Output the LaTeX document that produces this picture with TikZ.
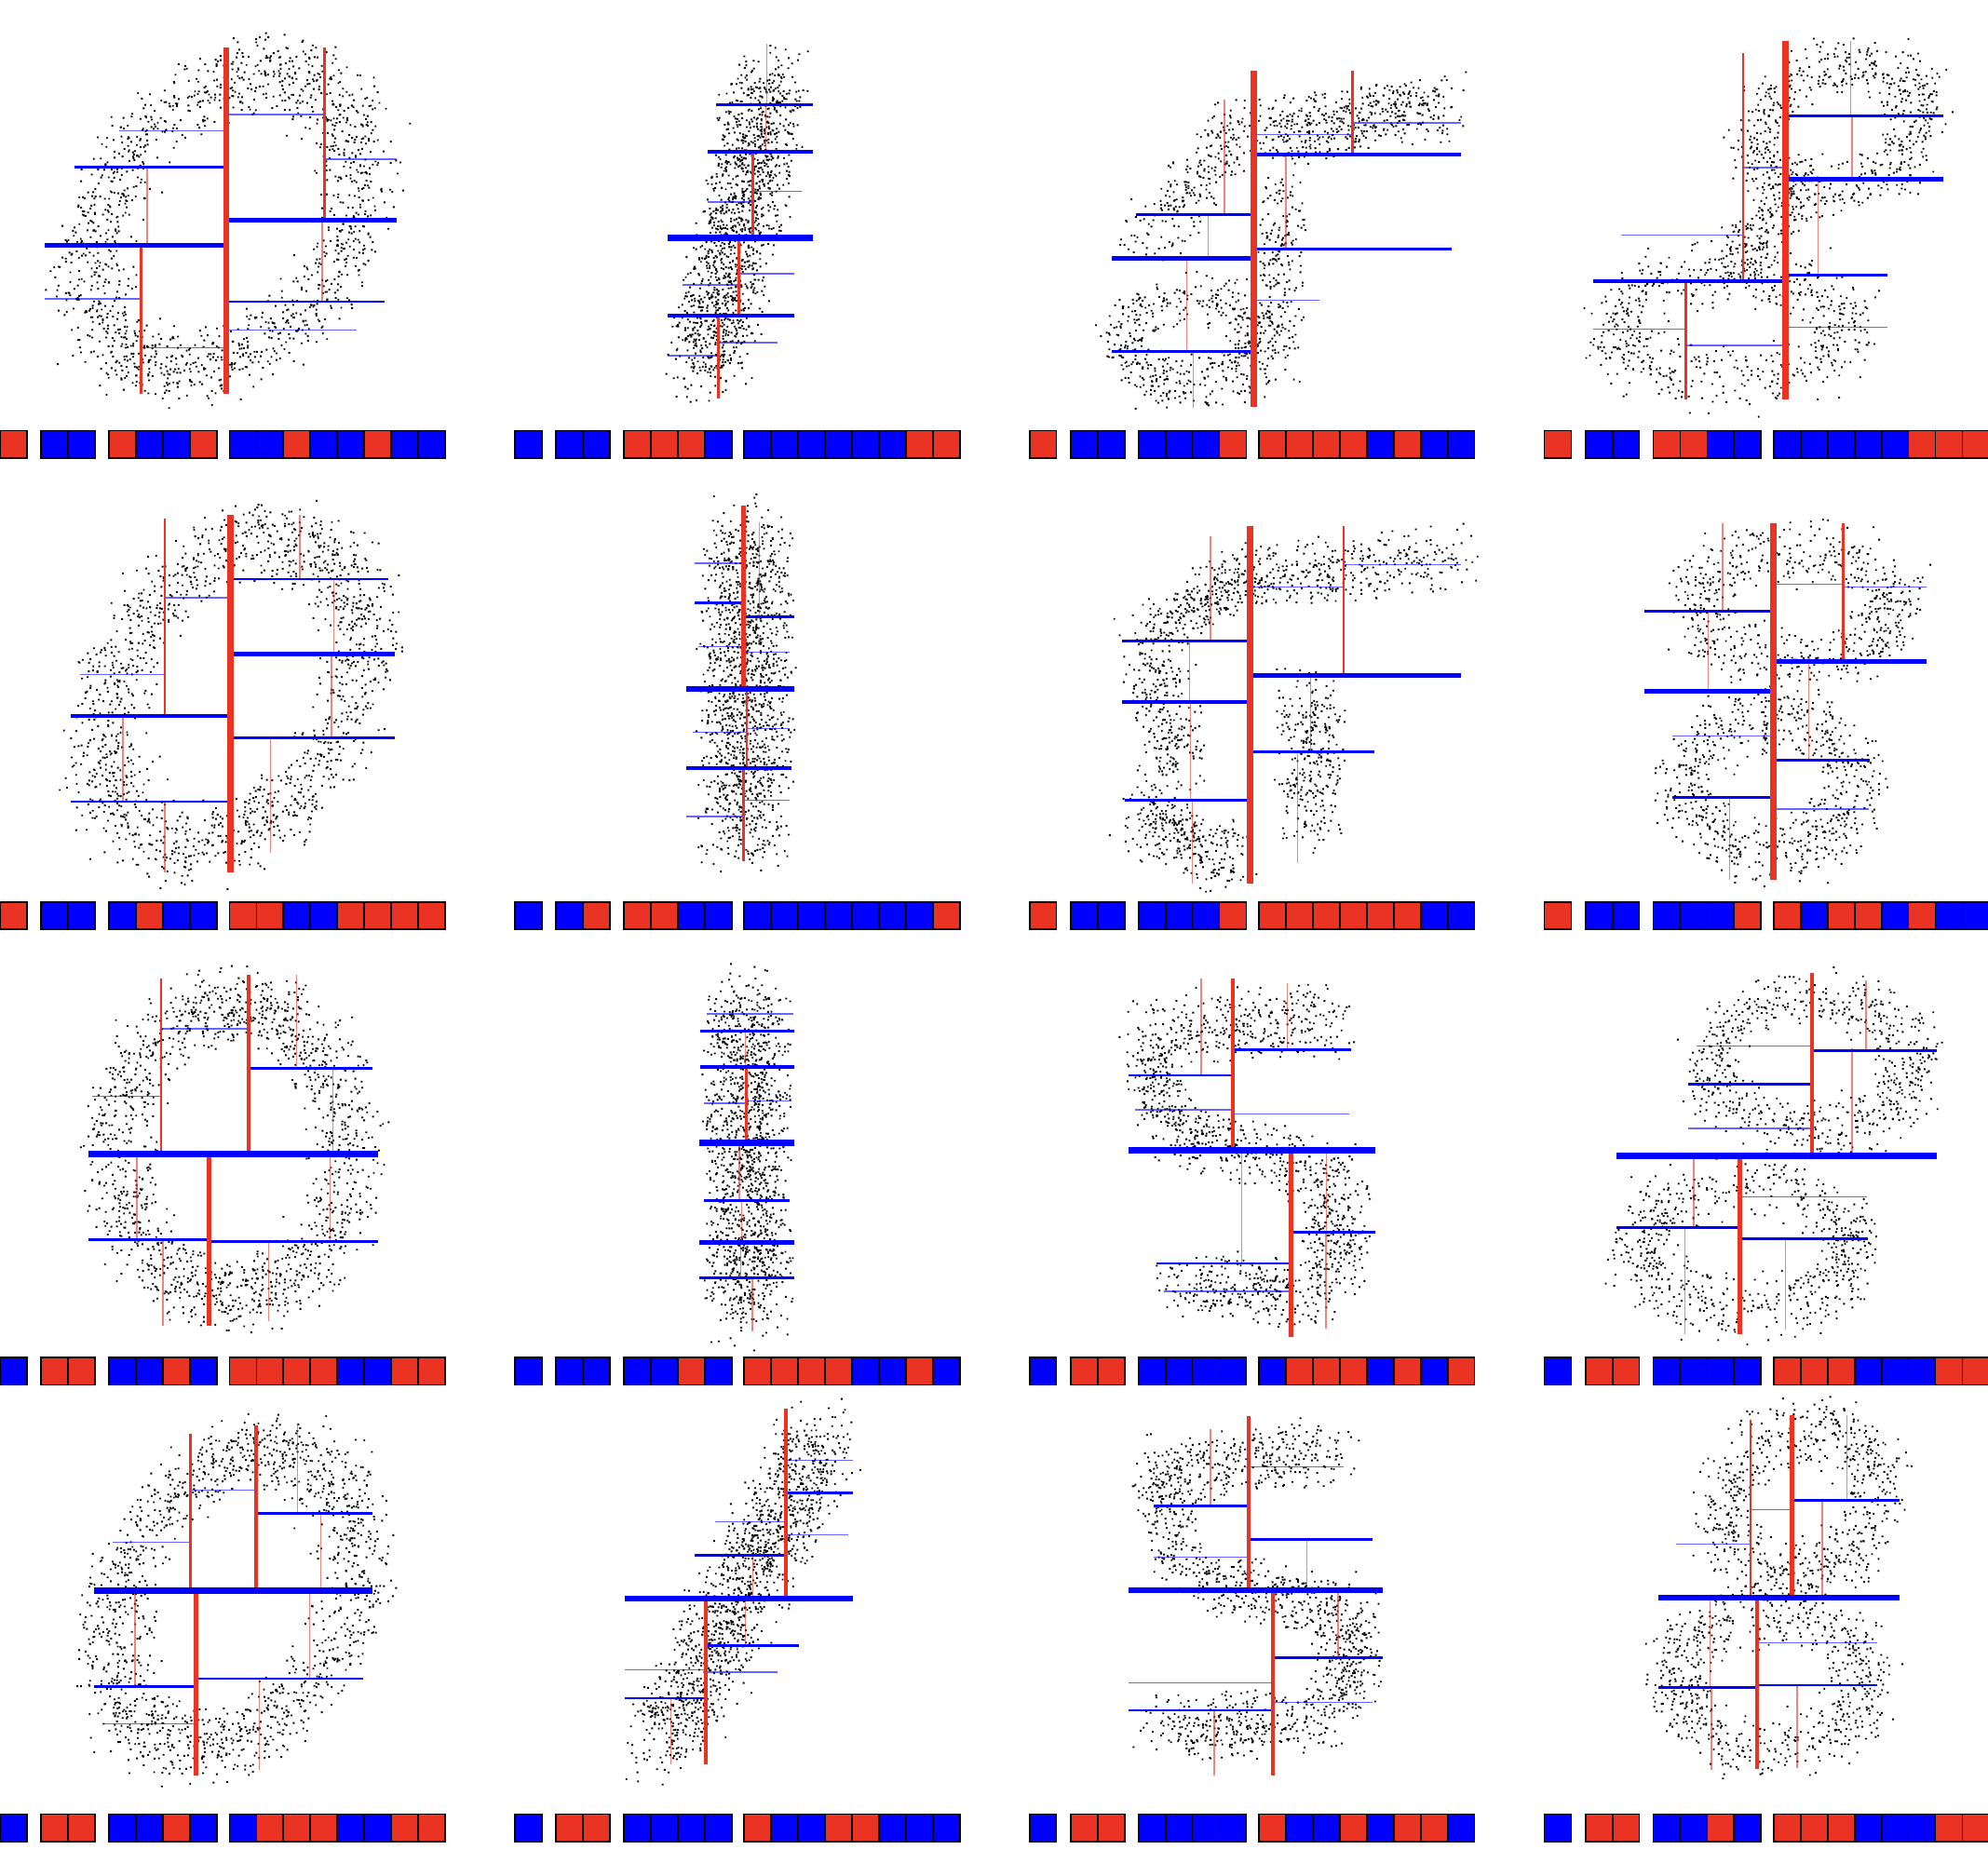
\documentclass[tikz,border=0pt]{standalone}
\usepackage{tikz}
\definecolor{kred}{RGB}{234,51,35}
\definecolor{kblue}{RGB}{0,0,255}
\definecolor{sqR}{RGB}{234,51,35}
\definecolor{sqB}{RGB}{0,0,255}
\tikzset{
  lwa/.style={line width=5pt},
  lwb/.style={line width=3.2pt},
  lwc/.style={line width=2pt},
  lwd/.style={line width=1pt, opacity=0.6},
}
\newcommand\redv[4]{\draw[#1, kred] (#2,#3) -- (#2,#4);}
\newcommand\blueh[4]{\draw[#1, kblue] (#3,#2) -- (#4,#2);}
\newcount\dotcnt
\newcount\dotsub
\newcommand\dotflush{\advance\dotsub by 1 \ifnum\dotsub>149 \pgfusepath{fill}\dotsub=0 \fi}
% N, x0, y0, x1, y1, w
\newcommand\dseg[6]{%
  \dotcnt=0 \dotsub=0
  \loop
    \pgfmathsetmacro\dott{rnd}%
    \pgfmathsetmacro\dotx{#2+(#4-#2)*\dott+#6*(rand+0.6*rand)/1.6}%
    \pgfmathsetmacro\doty{#3+(#5-#3)*\dott+#6*(rand+0.6*rand)/1.6}%
    \pgfpathrectangle{\pgfpointxy{\dotx}{\doty}}{\pgfpoint{1.4pt}{1.4pt}}%
    \dotflush
    \advance\dotcnt by 1
  \ifnum\dotcnt<#1 \repeat
  \ifnum\dotsub>0 \pgfusepath{fill}\fi}
% N, cx, cy, rx, ry, shear, w, a0, a1
\newcommand\dring[9]{%
  \dotcnt=0 \dotsub=0
  \loop
    \pgfmathsetmacro\dott{#8+(#9-#8)*rnd}%
    \pgfmathsetmacro\doty{#5*sin(\dott)+#7*(rand+0.6*rand)/1.6}%
    \pgfmathsetmacro\dotx{#2+#4*cos(\dott)+(#6)*\doty+#7*(rand+0.6*rand)/1.6}%
    \pgfmathsetmacro\doty{#3+\doty}%
    \pgfpathrectangle{\pgfpointxy{\dotx}{\doty}}{\pgfpoint{1.4pt}{1.4pt}}%
    \dotflush
    \advance\dotcnt by 1
  \ifnum\dotcnt<#1 \repeat
  \ifnum\dotsub>0 \pgfusepath{fill}\fi}
\newcommand\cbar[3]{%
  \foreach \cc [count=\ii] in {#3}{%
    \pgfmathsetmacro\xo{ifthenelse(\ii==1,0,ifthenelse(\ii<4,32.5+(\ii-2)*21.25,ifthenelse(\ii<8,86+(\ii-4)*21.25,181+(\ii-8)*21.25)))}%
    \filldraw[fill=sq\cc, draw=black, line width=1.3pt] ({#1+\xo},#2) rectangle ++(21.25,21.5);
  }}
\begin{document}
\begin{tikzpicture}[x=1pt,y=-1pt]
\fill[white] (0,0) rectangle (1568,1469);
\useasboundingbox (0,0) rectangle (1568,1469);
\pgfmathsetseed{7}
% ---------------- dots ----------------
% row 1
\dring{1500}{178}{174}{100}{116}{-0.28}{36}{0}{360}
\dseg{1400}{608}{62}{556}{292}{36}
\dseg{450}{1000}{105}{1140}{85}{30}
\dseg{250}{985}{95}{905}{190}{30}
\dseg{220}{1010}{150}{1005}{285}{24}
\dring{500}{940}{270}{52}{36}{0}{26}{0}{360}
\dring{650}{1450}{100}{62}{50}{-0.2}{30}{0}{360}
\dseg{220}{1420}{150}{1365}{215}{28}
\dring{600}{1365}{258}{92}{42}{0}{30}{0}{360}
% row 2
\dring{1500}{182}{547}{97}{120}{-0.25}{36}{0}{360}
\dseg{1400}{588}{420}{587}{665}{40}
\dseg{300}{900}{505}{985}{452}{28}
\dseg{350}{985}{460}{1145}{440}{30}
\dseg{250}{912}{515}{925}{610}{30}
\dseg{300}{1030}{545}{1035}{650}{32}
\dseg{300}{900}{645}{970}{680}{30}
\dring{650}{1415}{480}{78}{44}{0}{30}{0}{360}
\dring{700}{1395}{620}{66}{53}{0}{30}{0}{360}
% row 3
\dring{1500}{184}{908}{90}{115}{0}{34}{0}{360}
\dseg{1400}{589}{790}{590}{1035}{38}
\dseg{340}{905}{815}{1050}{805}{32}
\dseg{190}{905}{830}{922}{885}{26}
\dseg{300}{925}{895}{1050}{925}{29}
\dseg{250}{1055}{935}{1050}{1005}{29}
\dseg{300}{1040}{1022}{930}{1015}{30}
\dring{700}{1428}{840}{80}{50}{0}{30}{0}{360}
\dring{700}{1375}{985}{83}{48}{0}{30}{0}{360}
% row 4
\dring{1500}{185}{1262}{93}{116}{-0.22}{35}{0}{360}
\dseg{1400}{645}{1135}{522}{1378}{38}
\dseg{340}{918}{1160}{1050}{1145}{30}
\dseg{190}{915}{1165}{930}{1235}{26}
\dseg{300}{935}{1245}{1062}{1270}{29}
\dseg{250}{1062}{1275}{1060}{1340}{29}
\dseg{330}{1045}{1360}{915}{1362}{30}
\dring{700}{1420}{1185}{60}{56}{-0.15}{30}{0}{360}
\dring{720}{1395}{1325}{76}{53}{0}{30}{0}{360}
% ---------------- splits ----------------
% P11
\blueh{lwd}{103.3}{94}{178.5}\redv{lwd}{116}{131.9}{193.4}\blueh{lwd}{235.7}{35}{111}\blueh{lwd}{274.2}{111}{178.5}
\blueh{lwd}{90.3}{178.5}{256}\blueh{lwd}{125.6}{256}{313}\blueh{lwd}{260.2}{178.5}{281}\redv{lwd}{254}{173.6}{237.9}
\blueh{lwc}{131.9}{58.5}{178.5}\redv{lwc}{111}{193.4}{311}\redv{lwc}{256}{37.2}{173.6}\blueh{lwc}{237.9}{178.5}{303.5}
\blueh{lwb}{193.4}{35}{178.5}\blueh{lwb}{173.6}{178.5}{313}
\redv{lwa}{178.5}{37.2}{311}
% P12
\blueh{lwd}{280.5}{526.5}{566.5}\blueh{lwd}{270.3}{566.5}{613}\blueh{lwd}{224.7}{538.5}{582.5}\blueh{lwd}{215.9}{582.5}{626.5}
\blueh{lwd}{159.4}{558.5}{594}\blueh{lwd}{151}{594}{632.5}\redv{lwd}{604}{82.5}{119.5}\redv{lwd}{605}{34.3}{82.5}
\redv{lwc}{566.5}{249}{314.6}\redv{lwc}{582.5}{187.5}{249}\redv{lwc}{594}{119.5}{187.5}\blueh{lwc}{82.5}{565}{641}
\blueh{lwb}{249}{526.5}{626.5}\blueh{lwb}{119.5}{558.5}{641}
\blueh{lwa}{187.5}{526.5}{641}
% P13
\redv{lwd}{941.3}{277.4}{321.9}\redv{lwd}{935.8}{203.7}{277.4}\redv{lwd}{952.8}{169.2}{203.7}\redv{lwd}{965.8}{78.8}{169.2}
\blueh{lwd}{236.9}{988.8}{1040.8}\redv{lwd}{1014.3}{121.9}{196.3}\blueh{lwd}{106}{988.8}{1066.8}\blueh{lwd}{96.9}{1066.8}{1152.3}
\blueh{lwc}{277.4}{876.8}{988.8}\blueh{lwc}{169.2}{895.8}{988.8}\blueh{lwc}{196.3}{988.8}{1144.8}\redv{lwc}{1066.8}{55.8}{121.9}
\blueh{lwb}{203.7}{876.8}{988.8}\blueh{lwb}{121.9}{988.8}{1152.3}
\redv{lwa}{988.8}{55.8}{321.2}
% P14
\blueh{lwd}{259.7}{1256.8}{1329.8}\blueh{lwd}{272.5}{1329.8}{1408.3}\blueh{lwd}{185.6}{1278.3}{1374.8}\blueh{lwd}{132.2}{1374.8}{1408.3}
\blueh{lwd}{258.3}{1408.3}{1488.3}\redv{lwd}{1433.8}{141.5}{217.1}\redv{lwd}{1460.8}{91.3}{141.5}\redv{lwd}{1459.8}{32.3}{91.3}
\redv{lwc}{1329.8}{222}{315.3}\redv{lwc}{1374.8}{42.1}{222}\blueh{lwc}{217.1}{1408.3}{1488.3}\blueh{lwc}{91.3}{1408.3}{1532.8}
\blueh{lwb}{222}{1256.8}{1408.3}\blueh{lwb}{141.5}{1408.3}{1532.8}
\redv{lwa}{1408.3}{32.3}{315.3}
% P21
\redv{lwd}{130}{632.3}{687.9}\redv{lwd}{97}{565}{632.3}\blueh{lwd}{531.9}{63}{130}\blueh{lwd}{471.5}{130}{181.5}
\redv{lwd}{213.5}{581.9}{672.7}\redv{lwd}{261.5}{516}{581.9}\redv{lwd}{263.5}{456.8}{516}\redv{lwd}{236.5}{405.8}{456.8}
\blueh{lwc}{632.3}{56}{181.5}\redv{lwc}{130}{409.3}{565}\blueh{lwc}{581.9}{181.5}{311.5}\blueh{lwc}{456.8}{181.5}{306.5}
\blueh{lwb}{565}{56}{181.5}\blueh{lwb}{516}{181.5}{311.5}
\redv{lwa}{181.5}{405.8}{687.9}
% P22
\blueh{lwd}{644}{541.5}{586.5}\blueh{lwd}{631.3}{586.5}{623}\blueh{lwd}{577.7}{546.5}{589}\blueh{lwd}{574.8}{589}{623}
\blueh{lwd}{510.1}{550.5}{586.5}\blueh{lwd}{444.3}{548}{586.5}\blueh{lwd}{514.3}{586.5}{622.5}\redv{lwd}{599}{412}{486.4}
\redv{lwc}{586.5}{605.9}{679.3}\redv{lwc}{589}{543.4}{605.9}\blueh{lwc}{475.6}{548}{586.5}\blueh{lwc}{486.4}{586.5}{626.5}
\blueh{lwb}{605.9}{541.5}{624}\redv{lwb}{586.5}{398.5}{543.4}
\blueh{lwa}{543.4}{541.5}{626.5}
% P23
\redv{lwd}{940.3}{631}{696.9}\redv{lwd}{938.8}{553.7}{631}\redv{lwd}{938.3}{505.7}{553.7}\redv{lwd}{954.8}{423}{505.7}
\redv{lwd}{1023.3}{593.1}{681}\redv{lwd}{1033.8}{532.9}{593.1}\blueh{lwd}{463.1}{985.8}{1059.8}\blueh{lwd}{445.5}{1059.8}{1152.3}
\blueh{lwc}{631}{887.3}{985.8}\blueh{lwc}{505.7}{884.8}{985.8}\blueh{lwc}{593.1}{985.8}{1083.8}\redv{lwc}{1059.8}{414.9}{532.9}
\blueh{lwb}{553.7}{884.8}{985.8}\blueh{lwb}{532.9}{985.8}{1152.3}
\redv{lwa}{985.8}{414.9}{696.9}
% P24
\redv{lwd}{1364.3}{629.1}{694}\blueh{lwd}{580.4}{1319.3}{1398.8}\redv{lwd}{1347.3}{482}{545.4}\redv{lwd}{1358.8}{412.9}{482}
\blueh{lwd}{638.2}{1398.8}{1473.8}\redv{lwd}{1426.8}{521.9}{599.5}\blueh{lwd}{460.9}{1398.8}{1453.8}\blueh{lwd}{462.9}{1453.8}{1519.3}
\blueh{lwc}{629.1}{1319.3}{1398.8}\blueh{lwc}{482}{1296.8}{1398.8}\blueh{lwc}{599.5}{1398.8}{1474.8}\redv{lwc}{1453.8}{412.9}{521.9}
\blueh{lwb}{545.4}{1296.8}{1398.8}\blueh{lwb}{521.9}{1398.8}{1519.3}
\redv{lwa}{1398.8}{412.9}{694}
% P31
\redv{lwd}{128.5}{978.1}{1046.1}\redv{lwd}{108}{910.2}{978.1}\redv{lwd}{212}{979.5}{1042.2}\redv{lwd}{260.5}{910.2}{979.5}
\blueh{lwd}{865}{73}{127}\blueh{lwd}{811.6}{127}{196}\redv{lwd}{262.5}{842.7}{910.2}\redv{lwd}{234}{769.2}{842.7}
\blueh{lwc}{978.1}{70}{165}\blueh{lwc}{979.5}{165}{298}\redv{lwc}{127}{771.7}{910.2}\blueh{lwc}{842.7}{196}{294}
\redv{lwb}{165}{910.2}{1046.1}\redv{lwb}{196}{769.2}{910.2}
\blueh{lwa}{910.2}{70}{298}
% P32
\redv{lwd}{593.5}{1007.9}{1050.3}\redv{lwd}{584}{980}{1007.9}\redv{lwd}{585}{947}{980}\redv{lwd}{583}{901.7}{947}
\blueh{lwd}{870.3}{555.5}{588.5}\blueh{lwd}{868.4}{588.5}{624.5}\redv{lwd}{588}{813.5}{841.7}\blueh{lwd}{799.8}{557.5}{626}
\blueh{lwc}{1007.9}{551.5}{626.5}\blueh{lwc}{947}{555.5}{623}\redv{lwc}{588.5}{841.7}{901.7}\blueh{lwc}{813.5}{552}{626.5}
\blueh{lwb}{980}{551.5}{626.5}\blueh{lwb}{841.7}{552.5}{626.5}
\blueh{lwa}{901.7}{551.5}{626.5}
% P33
\blueh{lwd}{1018.7}{917.8}{1018.3}\redv{lwd}{979.3}{907.3}{996.6}\redv{lwd}{1045.8}{972.2}{1048.3}\redv{lwd}{1046.3}{907.3}{972.2}
\blueh{lwd}{875.5}{895.3}{972.3}\redv{lwd}{947.3}{772.2}{848.3}\blueh{lwd}{878.9}{972.3}{1064.3}\redv{lwd}{1015.3}{775.8}{828.2}
\blueh{lwc}{996.6}{911.8}{1018.3}\blueh{lwc}{972.2}{1018.3}{1084.8}\blueh{lwc}{848.3}{890.3}{972.3}\blueh{lwc}{828.2}{972.3}{1065.8}
\redv{lwb}{1018.3}{907.3}{1054.7}\redv{lwb}{972.3}{772.2}{907.3}
\blueh{lwa}{907.3}{890.3}{1084.8}
% P34
\redv{lwd}{1328.8}{968.5}{1052.7}\redv{lwd}{1335.8}{911.7}{968.5}\redv{lwd}{1408.3}{977.1}{1048.5}\blueh{lwd}{944.3}{1372.3}{1472.3}
\blueh{lwd}{890.2}{1331.3}{1429.3}\blueh{lwd}{825.3}{1337.8}{1429.3}\redv{lwd}{1460.8}{829}{911.7}\redv{lwd}{1471.8}{773.6}{829}
\blueh{lwc}{968.5}{1275.3}{1372.3}\blueh{lwc}{977.1}{1372.3}{1473.3}\blueh{lwc}{855.2}{1331.3}{1429.3}\blueh{lwc}{829}{1429.3}{1527.3}
\redv{lwb}{1372.3}{911.7}{1052.7}\redv{lwb}{1429.3}{767.3}{911.7}
\blueh{lwa}{911.7}{1275.3}{1527.3}
% P41
\blueh{lwd}{1359.6}{81}{154.5}\redv{lwd}{106.5}{1254.8}{1330.2}\redv{lwd}{204.5}{1324.1}{1396.1}\redv{lwd}{244}{1254.8}{1324.1}
\blueh{lwd}{1216.7}{88.5}{150}\blueh{lwd}{1175.3}{150}{202}\redv{lwd}{253}{1193.6}{1254.8}\redv{lwd}{234.5}{1124.1}{1193.6}
\blueh{lwc}{1330.2}{74}{154.5}\blueh{lwc}{1324.1}{154.5}{286.5}\redv{lwc}{150}{1131.2}{1254.8}\blueh{lwc}{1193.6}{202}{294}
\redv{lwb}{154.5}{1254.8}{1400.8}\redv{lwb}{202}{1124.1}{1254.8}
\blueh{lwa}{1254.8}{74}{294}
% P42
\redv{lwd}{529}{1339.5}{1391.9}\blueh{lwd}{1317.3}{492.5}{556.5}\blueh{lwd}{1319}{556.5}{613}\redv{lwd}{588}{1261}{1297.9}
\redv{lwd}{594}{1226.7}{1261}\blueh{lwd}{1200.5}{564}{620}\blueh{lwd}{1210.5}{620}{669}\blueh{lwd}{1151.8}{620}{672.5}
\blueh{lwc}{1339.5}{492.5}{556.5}\blueh{lwc}{1297.9}{556.5}{630}\blueh{lwc}{1226.7}{548}{620}\blueh{lwc}{1177.7}{620}{672.5}
\redv{lwb}{556.5}{1261}{1391.9}\redv{lwb}{620}{1110.9}{1261}
\blueh{lwa}{1261}{492.5}{672.5}
% P43
\redv{lwd}{957.8}{1349.1}{1400.8}\blueh{lwd}{1327.3}{889.8}{1003.8}\blueh{lwd}{1342.7}{1003.8}{1082.8}\redv{lwd}{1055.3}{1254.4}{1307.7}
\blueh{lwd}{1228.4}{910.3}{984.8}\redv{lwd}{954.8}{1127}{1188}\redv{lwd}{1030.8}{1214.2}{1254.4}\blueh{lwd}{1156.9}{984.8}{1059.8}
\blueh{lwc}{1349.1}{889.8}{1003.8}\blueh{lwc}{1307.7}{1003.8}{1090.3}\blueh{lwc}{1188}{910.3}{984.8}\blueh{lwc}{1214.2}{984.8}{1082.3}
\redv{lwb}{1003.8}{1254.4}{1400.8}\redv{lwb}{984.8}{1116.8}{1254.4}
\blueh{lwa}{1254.4}{889.8}{1090.3}
% P44
\redv{lwd}{1349.8}{1331.2}{1396.1}\redv{lwd}{1348.8}{1260.2}{1331.2}\redv{lwd}{1417.3}{1329.3}{1394.6}\blueh{lwd}{1295.7}{1385.8}{1480.8}
\blueh{lwd}{1218.1}{1322.3}{1380.8}\blueh{lwd}{1190.7}{1380.8}{1413.3}\redv{lwd}{1437.3}{1183.4}{1260.2}\redv{lwd}{1456.8}{1116.3}{1183.4}
\blueh{lwc}{1331.2}{1308.3}{1385.8}\blueh{lwc}{1329.3}{1385.8}{1480.8}\redv{lwc}{1380.8}{1120.2}{1260.2}\blueh{lwc}{1183.4}{1413.3}{1498.3}
\redv{lwb}{1385.8}{1260.2}{1395.4}\redv{lwb}{1413.3}{1116.3}{1260.2}
\blueh{lwa}{1260.2}{1308.3}{1498.3}
% ---------------- bars ----------------
\cbar{0}{339.7}{R,B,B,R,B,B,R,B,B,R,B,B,R,B,B}
\cbar{406}{339.7}{B,B,B,R,R,R,B,B,B,B,B,B,B,R,R}
\cbar{812}{339.7}{R,B,B,B,B,B,R,R,R,R,R,B,R,B,B}
\cbar{1218}{339.7}{R,B,B,R,R,B,B,B,B,B,B,B,R,R,R}
\cbar{0}{711.5}{R,B,B,B,R,B,B,R,R,B,B,R,R,R,R}
\cbar{406}{711.5}{B,B,R,R,R,B,B,B,B,B,B,B,B,B,R}
\cbar{812}{711.5}{R,B,B,B,B,B,R,R,R,R,R,R,R,B,B}
\cbar{1218}{711.5}{R,B,B,B,B,B,R,R,B,R,R,B,R,B,B}
\cbar{0}{1071}{B,R,R,B,B,R,B,R,R,R,R,B,B,R,R}
\cbar{406}{1071}{B,B,B,B,B,R,B,R,R,R,R,B,B,R,B}
\cbar{812}{1071}{B,R,R,B,B,B,B,B,R,R,R,B,R,B,R}
\cbar{1218}{1071}{B,R,R,B,B,B,B,R,R,R,B,B,B,R,R}
\cbar{0}{1431}{B,R,R,B,B,R,B,B,R,R,R,B,B,R,R}
\cbar{406}{1431}{B,R,R,B,B,B,B,R,B,B,R,R,B,B,B}
\cbar{812}{1431}{B,R,R,B,B,B,B,R,B,B,R,B,R,R,B}
\cbar{1218}{1431}{B,R,R,B,B,R,B,R,R,R,B,B,B,R,R}
\end{tikzpicture}
\end{document}
